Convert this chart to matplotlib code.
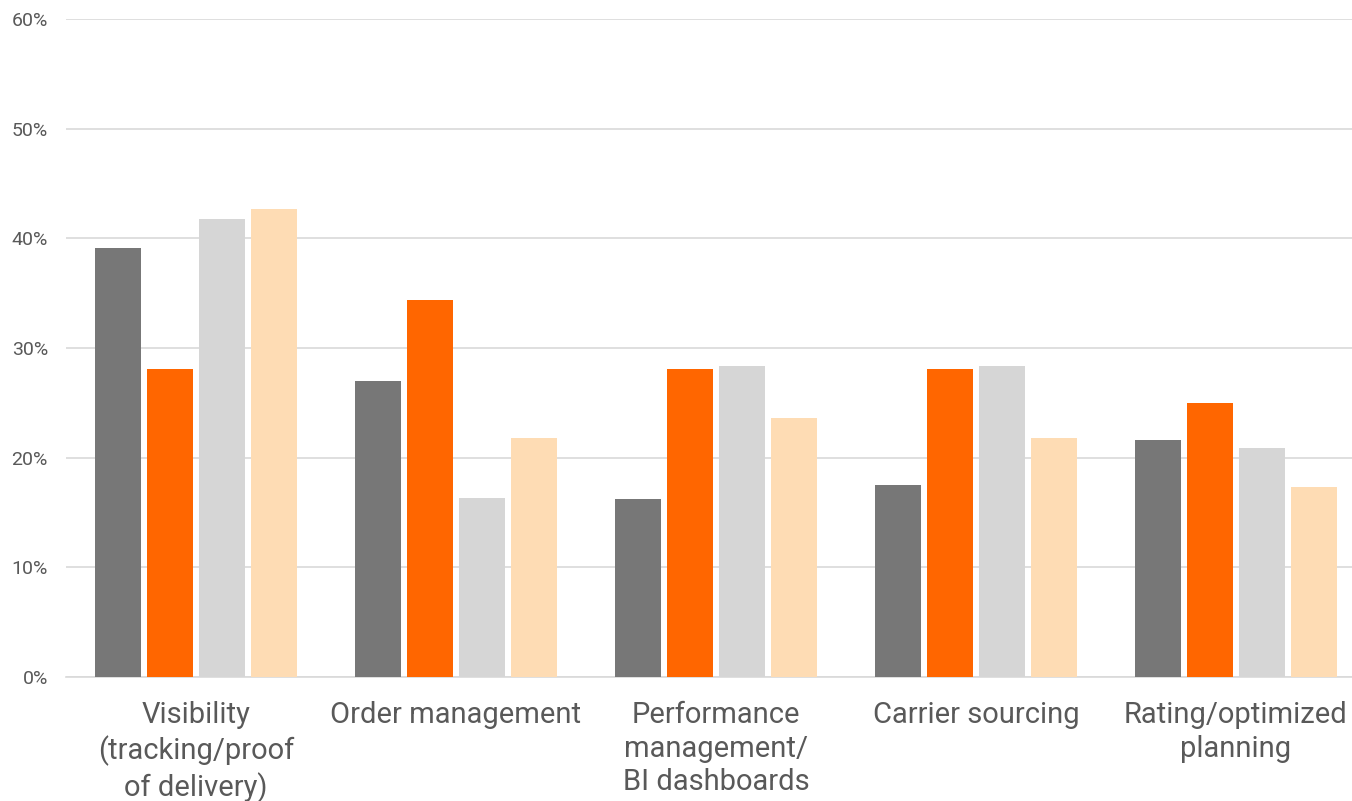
import matplotlib
matplotlib.use("Agg")
import matplotlib.pyplot as plt
import numpy as np

categories = ["Visibility\n(tracking/proof\nof delivery)", "Order management",
              "Performance\nmanagement/\nBI dashboards", "Carrier sourcing",
              "Rating/optimized\nplanning"]
series_a = [39.1, 27.0, 16.2, 17.5, 21.6]
series_b = [28.1, 34.4, 28.1, 28.1, 25.0]
series_c = [41.8, 16.3, 28.4, 28.4, 20.9]
series_d = [42.7, 21.8, 23.6, 21.8, 17.3]
series = [series_a, series_b, series_c, series_d]
colors = ["#777777", "#FF6600", "#D6D6D6", "#FEDCB4"]
yticks = [0, 10, 20, 30, 40, 50, 60]

plt.rcParams['font.family'] = ['Roboto', 'DejaVu Sans']

fig = plt.figure(figsize=(13.52, 8.01), dpi=100)
ax = fig.add_axes([66/1352, 1-677/801, (1352-66)/1352, 658/801])

x = np.arange(len(categories))
w = 0.18
offsets = [-0.3, -0.1, 0.1, 0.3]
for s, c, o in zip(series, colors, offsets):
    ax.bar(x + o, s, width=w, color=c, zorder=3)

ax.set_xlim(-0.5, -0.5 + (1352-66)/260)
ax.set_ylim(0, 60)
ax.set_yticks(yticks)
ax.set_yticklabels([f"{t}%" for t in yticks], color="#595959", fontsize=14)
ax.grid(axis='y', color="#D9D9D9", linewidth=1.2, zorder=0)
ax.set_xticks(x)
ax.set_xticklabels(categories, fontsize=21, color="#595959", linespacing=1.27)
ax.tick_params(axis='both', length=0)
ax.tick_params(axis='y', pad=13)
ax.tick_params(axis='x', pad=17)
for sp in ax.spines.values():
    sp.set_visible(False)
ax.spines['bottom'].set_visible(True)
ax.spines['bottom'].set_color("#D9D9D9")
ax.spines['bottom'].set_linewidth(1.2)

fig.savefig("out.png", dpi=100, facecolor="white")
